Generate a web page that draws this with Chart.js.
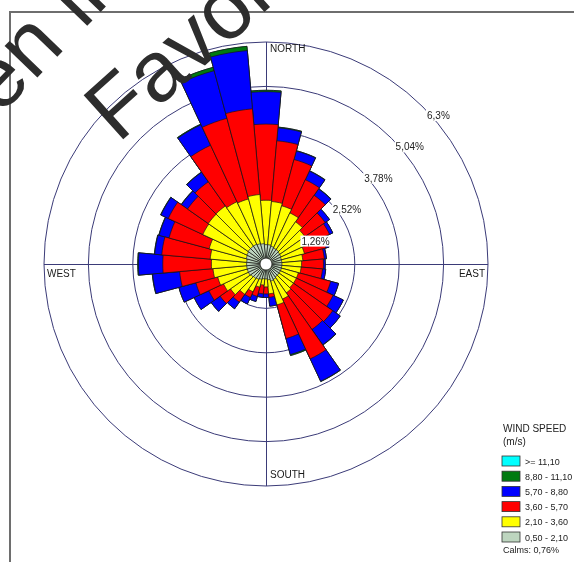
<!DOCTYPE html>
<html><head><meta charset="utf-8">
<script src="https://cdn.jsdelivr.net/npm/chart.js@4/dist/chart.umd.min.js"></script>
<style>html,body{margin:0;padding:0;background:#fff;overflow:hidden}canvas{display:block}</style>
</head><body>
<canvas id="c" width="574" height="562"></canvas>
<script>
// Direction sectors (degrees clockwise from north)
const DIRECTIONS = [0,10,20,30,40,50,60,70,80,90,100,110,120,130,140,150,160,170,180,190,200,210,220,230,240,250,260,270,280,290,300,310,320,330,340,350];
// Wind speed class labels (m/s), lowest first
const SPEED_CLASSES = ['0,50 - 2,10','2,10 - 3,60','3,60 - 5,70','5,70 - 8,80','8,80 - 11,10','>= 11,10'];
// Frequency (%) per class and direction
const WS_050_210 = [0.55,0.55,0.52,0.50,0.50,0.48,0.47,0.45,0.45,0.45,0.45,0.45,0.45,0.45,0.45,0.48,0.50,0.45,0.42,0.42,0.45,0.48,0.50,0.52,0.55,0.55,0.55,0.55,0.55,0.58,0.60,0.62,0.62,0.62,0.60,0.58];
const WS_210_360 = [1.26,1.23,1.19,1.10,0.96,0.87,0.78,0.68,0.60,0.56,0.55,0.50,0.50,0.50,0.55,0.62,0.70,0.40,0.23,0.18,0.23,0.39,0.55,0.71,0.78,0.87,0.96,1.00,1.04,1.09,1.38,1.38,1.39,1.33,1.31,1.40];
const WS_360_570 = [2.16,1.73,1.36,1.04,0.92,0.70,0.74,0.63,0.61,0.62,0.61,0.95,1.15,1.36,1.27,1.87,0.99,0.10,0.20,0.25,0.27,0.18,0.27,0.36,0.46,0.64,0.95,1.38,1.38,1.18,1.08,0.72,0.84,1.77,2.37,2.44];
const WS_570_880 = [0.92,0.37,0.25,0.27,0.22,0.15,0.10,0.09,0.06,0.05,0.09,0.23,0.32,0.26,0.53,0.70,0.47,0.25,0.10,0.10,0.15,0.20,0.23,0.31,0.46,0.50,0.77,0.69,0.20,0.29,0.23,0.21,0.33,0.64,1.40,1.66];
const WS_880_1110 = [0.04,0.02,0.01,0.01,0.01,0,0,0,0,0,0,0,0,0,0.01,0.01,0.03,0,0,0,0,0,0,0,0,0,0.01,0.02,0.01,0.01,0.01,0.01,0.01,0.02,0.10,0.12];
const WS_1110 = [0,0,0,0,0,0,0,0,0,0,0,0,0,0,0,0,0,0,0,0,0,0,0,0,0,0,0,0,0,0,0,0,0,0,0,0];
// Ring values and their labels
const TICK_VALUES = [0,1.26,2.52,3.78,5.04,6.3];
const TICK_LABELS = ['','1,26%','2,52%','3,78%','5,04%','6,3%'];
const COMPASS = ['NORTH','EAST','SOUTH','WEST'];
const LEGEND_TITLE = ['WIND SPEED','(m/s)'];
const CALMS = 'Calms: 0,76%';
const WATERMARK = ['Open in','Favorites'];

const SERIES = [WS_050_210, WS_210_360, WS_360_570, WS_570_880, WS_880_1110, WS_1110];
const COLORS = ['#bdd5bf','#ffff00','#ff0000','#0000ff','#007a10','#00ffff'];

// Stack classes: each dataset is the cumulative frequency, lower classes drawn on top
const datasets = SERIES.map((s, k) => ({
  label: SPEED_CLASSES[k],
  data: DIRECTIONS.map((_, i) => {
    let t = 0; for (let j = 0; j <= k; j++) t += SERIES[j][i]; return +t.toFixed(3);
  }),
  backgroundColor: COLORS[k],
  borderColor: '#161616',
  borderWidth: 0.7
}));

const FONT = '"Liberation Sans", Arial, sans-serif';

const decor = {
  id: 'decor',
  beforeDraw(chart) {
    const ctx = chart.ctx;
    ctx.save();
    ctx.fillStyle = '#fff';
    ctx.fillRect(0, 0, chart.width, chart.height);
    ctx.strokeStyle = '#6e6e6e';
    ctx.lineWidth = 2;
    ctx.beginPath();
    ctx.moveTo(9, 12); ctx.lineTo(chart.width, 12);
    ctx.moveTo(10, 12); ctx.lineTo(10, chart.height);
    ctx.stroke();
    ctx.restore();
  },
  beforeDatasetsDraw(chart) {
    const s = chart.scales.r, ctx = chart.ctx;
    const R = s.drawingArea, xc = s.xCenter, yc = s.yCenter;
    ctx.save();
    ctx.strokeStyle = '#3b3b78';
    ctx.lineWidth = 1;
    ctx.beginPath();
    ctx.moveTo(xc + 0.5, yc - R); ctx.lineTo(xc + 0.5, yc + R);
    ctx.moveTo(xc - R, yc + 0.5); ctx.lineTo(xc + R, yc + 0.5);
    ctx.stroke();
    ctx.restore();
  },
  afterDatasetsDraw(chart) {
    const s = chart.scales.r, ctx = chart.ctx;
    const R = s.drawingArea, xc = s.xCenter, yc = s.yCenter;
    ctx.save();
    // center hole
    ctx.fillStyle = '#fff';
    ctx.beginPath(); ctx.arc(xc, yc, 5.5, 0, Math.PI * 2); ctx.fill();
    // ring labels
    ctx.font = '10px ' + FONT;
    ctx.textBaseline = 'alphabetic';
    ctx.textAlign = 'left';
    TICK_VALUES.forEach((v, i) => {
      if (!TICK_LABELS[i]) return;
      const d = s.getDistanceFromCenterForValue(v);
      const px = xc + d * Math.SQRT1_2 + 4, py = yc - d * Math.SQRT1_2 + 12;
      const w = ctx.measureText(TICK_LABELS[i]).width;
      ctx.fillStyle = '#fff';
      ctx.fillRect(px - 1, py - 9, w + 2, 11);
      ctx.fillStyle = '#222';
      ctx.fillText(TICK_LABELS[i], px, py);
    });
    // compass labels
    ctx.fillStyle = '#1a1a1a';
    ctx.textAlign = 'left';
    ctx.fillText(COMPASS[0], xc + 4, yc - R + 10);
    ctx.fillText(COMPASS[2], xc + 4, yc + R - 8);
    ctx.fillText(COMPASS[3], xc - R + 3, yc + 13);
    ctx.textAlign = 'right';
    ctx.fillText(COMPASS[1], xc + R - 3, yc + 13);
    // legend
    ctx.textAlign = 'left';
    ctx.fillStyle = '#222';
    ctx.font = '10px ' + FONT;
    ctx.fillText(LEGEND_TITLE[0], 503, 432);
    ctx.fillText(LEGEND_TITLE[1], 503, 445);
    ctx.font = '9px ' + FONT;
    const ds = chart.data.datasets;
    for (let k = ds.length - 1, row = 0; k >= 0; k--, row++) {
      const y = 456 + row * 15.2;
      ctx.fillStyle = ds[k].backgroundColor;
      ctx.fillRect(502, y, 18, 10);
      ctx.strokeStyle = '#333'; ctx.lineWidth = 0.8;
      ctx.strokeRect(502, y, 18, 10);
      ctx.fillStyle = '#222';
      ctx.fillText(ds[k].label, 525, y + 8.5);
    }
    ctx.fillText(CALMS, 503, 456 + 6 * 15.2 + 6);
    ctx.restore();
    // watermark overlay
    ctx.save();
    ctx.fillStyle = '#2d2d2d';
    ctx.font = '86px ' + FONT;
    ctx.textAlign = 'left';
    ctx.textBaseline = 'alphabetic';
    ctx.translate(116, 140);
    ctx.rotate(-46 * Math.PI / 180);
    ctx.fillText(WATERMARK[0], -178, -100);
    ctx.restore();
    ctx.save();
    ctx.fillStyle = '#2d2d2d';
    ctx.font = '86px ' + FONT;
    ctx.textAlign = 'left';
    ctx.textBaseline = 'alphabetic';
    ctx.translate(118, 144);
    ctx.rotate(-42 * Math.PI / 180);
    ctx.fillText(WATERMARK[1], 0, 0);
    ctx.restore();
  }
};

new Chart(document.getElementById('c'), {
  type: 'polarArea',
  data: { labels: DIRECTIONS.map(d => d + '°'), datasets },
  options: {
    responsive: false,
    animation: false,
    devicePixelRatio: 1,
    layout: { padding: { left: 44, right: 86, top: 42, bottom: 76 } },
    plugins: { legend: { display: false }, tooltip: { enabled: false } },
    scales: {
      r: {
        min: 0, max: 6.3,
        startAngle: -5,
        ticks: { display: false },
        afterBuildTicks: (sc) => { sc.ticks = TICK_VALUES.map(v => ({ value: v })); },
        grid: { color: '#3b3b78', lineWidth: 1, circular: true },
        angleLines: { display: false },
        pointLabels: { display: false }
      }
    }
  },
  plugins: [decor]
});
</script>
</body></html>
